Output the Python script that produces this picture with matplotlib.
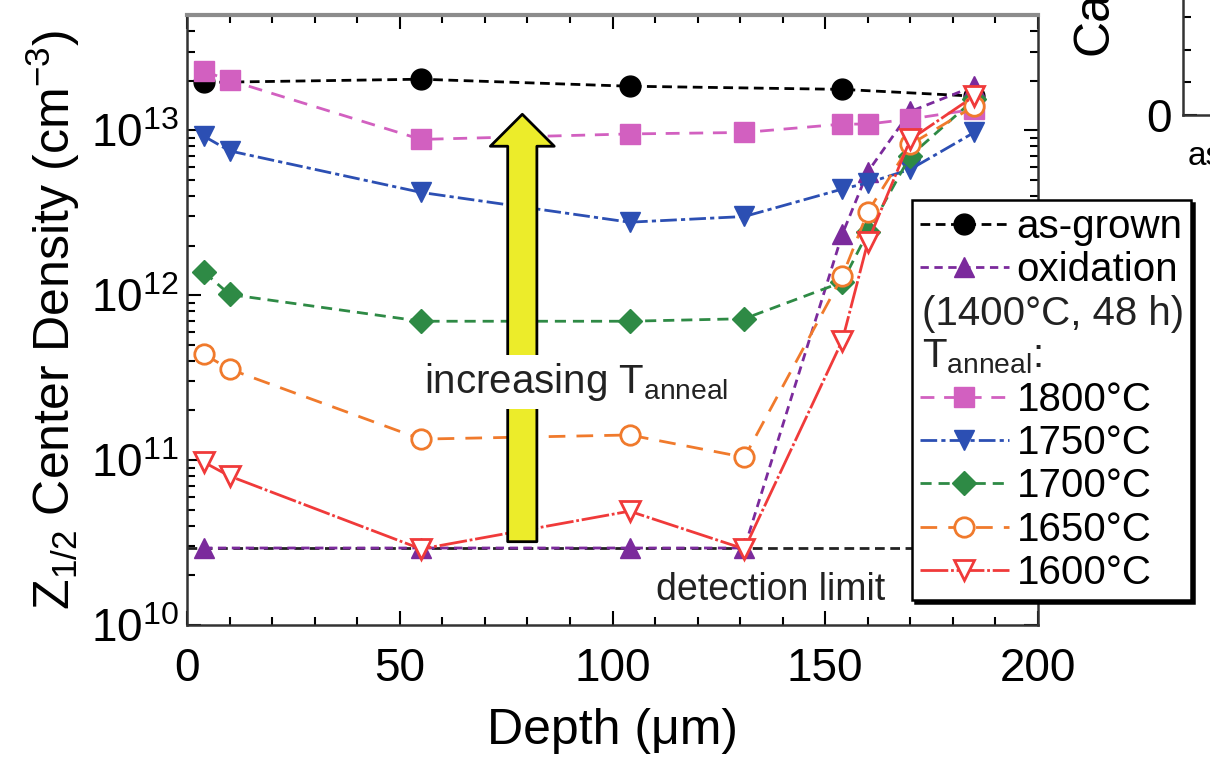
import matplotlib
matplotlib.use('Agg')
import matplotlib.pyplot as plt
from matplotlib.lines import Line2D

plt.rcParams['font.family'] = ['Liberation Sans', 'DejaVu Sans']
plt.rcParams['mathtext.fontset'] = 'custom'
plt.rcParams['mathtext.rm'] = 'Liberation Sans'
plt.rcParams['mathtext.it'] = 'Liberation Sans:italic'
plt.rcParams['mathtext.bf'] = 'Liberation Sans:bold'
plt.rcParams['mathtext.default'] = 'regular'

# depth in um, Z1/2 density in cm^-3
depth_asgrown = [4, 55, 104, 154, 185]
asgrown = [1.95e13, 2.04e13, 1.85e13, 1.77e13, 1.61e13]

depth_ox = [4, 55, 104, 131, 154, 160, 170, 185]
oxidation = [2.93e10, 2.93e10, 2.93e10, 2.93e10, 2.34e12, 5.6e12, 1.30e13, 1.85e13]

depth_anneal = [4, 10, 55, 104, 131, 154, 160, 170, 185]
t1800 = [2.28e13, 2.01e13, 8.8e12, 9.5e12, 9.7e12, 1.09e13, 1.09e13, 1.17e13, 1.34e13]
t1750 = [9.2e12, 7.5e12, 4.2e12, 2.77e12, 3.0e12, 4.4e12, 4.8e12, 5.8e12, 9.7e12]
t1700 = [1.38e12, 1.01e12, 6.95e11, 6.95e11, 7.2e11, 1.2e12, 2.4e12, 7.0e12, 1.54e13]
t1650 = [4.38e11, 3.56e11, 1.34e11, 1.42e11, 1.04e11, 1.30e12, 3.2e12, 8.2e12, 1.40e13]
t1600 = [9.7e10, 8.0e10, 2.89e10, 4.9e10, 2.89e10, 5.3e11, 2.1e12, 8.8e12, 1.61e13]

detection_limit = 2.93e10

fig = plt.figure(figsize=(12.1, 7.59), dpi=100)
ax = fig.add_axes([187/1210, 1-625/759, (1038-187)/1210, (625-15)/759])

ax.axhline(detection_limit, color='#222222', ls=(0, (3.5, 2)), lw=2, zorder=1)

ax.plot(depth_asgrown, asgrown, color='black', ls=(0, (3.5, 2)), lw=2,
        marker='o', ms=15, label='as-grown', zorder=3)
ax.plot(depth_ox, oxidation, color='#7b2a9c', ls=(0, (3, 2)), lw=2,
        marker='^', ms=14, label='oxidation', zorder=3)

anneal = [
    ('1800°C', t1800, '#d260c0', 's', (0, (5, 3.5)), True),
    ('1750°C', t1750, '#2c4fb3', 'v', (0, (6, 1.5, 1.5, 1.5)), True),
    ('1700°C', t1700, '#2e8a45', 'D', (0, (4, 2.5)), True),
    ('1650°C', t1650, '#f07a2c', 'o', (0, (6, 4)), False),
    ('1600°C', t1600, '#f03a3a', 'v', (0, (10, 1, 1, 1)), False),
]
for name, vals, col, mk, ls, filled in anneal:
    ms = 12 if mk == 'D' else 14
    ax.plot(depth_anneal, vals, color=col, ls=ls, lw=2, marker=mk, ms=ms,
            mfc=col if filled else 'white', mec=col, mew=2 if not filled else 1,
            label=name, zorder=4)

ax.set_yscale('log')
ax.set_xlim(0, 200)
ax.set_ylim(1e10, 5e13)
ax.set_xticks([0, 50, 100, 150, 200])
ax.set_xticks(range(0, 201, 10), minor=True)
ax.tick_params(which='both', direction='in', top=True, right=True, width=1.5)
ax.tick_params(which='major', length=10)
ax.tick_params(which='minor', length=6)
ax.tick_params(axis='x', labelsize=33, pad=16)
ax.tick_params(axis='y', labelsize=33, pad=6)
for s in ax.spines.values():
    s.set_linewidth(1.8)
    s.set_color('#333333')
ax.spines['top'].set_color('#8c8c8c')
ax.spines['top'].set_linewidth(3)

ax.set_xlabel('Depth (μm)', fontsize=36, labelpad=12)
ax.set_ylabel(r'Z$_{1/2}$ Center Density (cm$^{-3}$)', fontsize=36, labelpad=6)

# arrow + labels
ax.annotate('', xy=(78.8, 1.25e13), xytext=(78.8, 3.2e10),
            arrowprops=dict(arrowstyle='simple,head_width=4.6,head_length=2.3,tail_width=2.1',
                            fc='#ecec2a', ec='black', lw=2, shrinkA=0, shrinkB=0,
                            mutation_scale=10), zorder=5)
ax.text(91.5, 2.97e11, r'increasing T$_{anneal}$', fontsize=29, ha='center', va='center',
        color='#222222', zorder=6,
        bbox=dict(fc='white', ec='none', pad=4))
ax.text(164, 1.62e10, 'detection limit', fontsize=27, ha='right', va='center',
        color='#222222', zorder=6)

# legend
blank = Line2D([], [], color='none')
handles, labels = ax.get_legend_handles_labels()
handles = handles[:2] + [blank, blank] + handles[2:]
labels = labels[:2] + [' ', ' '] + labels[2:]
leg = ax.legend(handles, labels, loc='upper left', bbox_to_anchor=(912/1210, 1-200/759),
                bbox_transform=fig.transFigure, fontsize=29, handlelength=2.2,
                handletextpad=0.2, labelspacing=0.13, borderpad=0.2, borderaxespad=0,
                numpoints=1, frameon=True, fancybox=False, edgecolor='black',
                framealpha=1, shadow={'color': 'black', 'alpha': 1})
leg.get_frame().set_linewidth(1.8)
leg.set_zorder(10)

fig.canvas.draw()
texts = leg.get_texts()
x0 = leg.get_window_extent().x0 + 10
for t, s in zip(texts[2:4], ['(1400°C, 48 h)', r'T$_{anneal}$:']):
    bb = t.get_window_extent()
    fig.text(x0 / 1210, (bb.y0 + bb.y1) / 2 / 759, s, fontsize=29, va='center',
             ha='left', color='#222222', zorder=11)

# neighbouring panel, cut by the image edge
ax2 = fig.add_axes([1183/1210, 1-115/759, 0.2, 0.43])
ax2.set_ylim(0, 10)
ax2.set_yticks([0])
ax2.set_yticks(range(11), minor=True)
ax2.set_xticks([])
ax2.tick_params(which='both', direction='in', width=1.5, labelsize=33, pad=8)
ax2.tick_params(which='major', length=10)
ax2.tick_params(which='minor', length=6)
for s in ax2.spines.values():
    s.set_linewidth(1.8)
    s.set_color('#333333')
fig.text(1095/1210, 1-55/759, 'Ca', rotation=90, fontsize=36, ha='center', va='bottom')
fig.text(1188/1210, 1-157/759, 'as-grown', fontsize=24, ha='left', va='center')

fig.savefig('out.png', dpi=100)
